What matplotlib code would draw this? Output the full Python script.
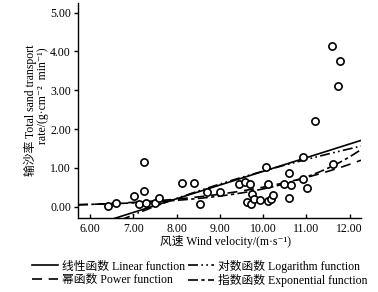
import numpy as np
import matplotlib
matplotlib.use("Agg")
import matplotlib.pyplot as plt

plt.rcParams['font.family'] = ['Liberation Serif', 'Noto Sans CJK SC', 'DejaVu Serif']

# Observed data: wind velocity (m/s) vs total sand transport rate
wind = [6.41, 6.60, 7.01, 7.24, 7.24, 7.13, 7.30, 7.49, 7.59, 8.13,
        8.40, 8.53, 8.70, 9.00, 9.45, 9.57, 9.70, 9.75, 9.62, 9.72,
        9.78, 9.92, 10.07, 10.12, 10.12, 10.17, 10.22, 10.49, 10.60, 10.65,
        10.59, 10.93, 11.02, 10.92, 11.62, 11.20, 11.59, 11.78, 11.72]
rate = [0.02, 0.09, 0.28, 1.16, 0.40, 0.06, 0.09, 0.09, 0.22, 0.61,
        0.61, 0.06, 0.37, 0.38, 0.58, 0.64, 0.58, 0.33, 0.11, 0.06,
        0.19, 0.16, 1.02, 0.59, 0.15, 0.19, 0.29, 0.58, 0.87, 0.56,
        0.21, 0.72, 0.48, 1.28, 1.10, 2.21, 4.15, 3.75, 3.11]

# Fitted function coefficients
linear_coef = (0.353, -2.62)      # y = a*x + b
log_coef = (3.16, -6.36)          # y = a*ln(x) + b
power_coef = (2.76e-5, 4.26)      # y = a*x^b
exp_coef = (0.0026, 0.517)        # y = a*exp(b*x)

xticks = [6, 7, 8, 9, 10, 11, 12]
yticks = [0, 1, 2, 3, 4, 5]

fig = plt.figure(figsize=(3.78, 2.92), dpi=100)
ax = fig.add_axes([78/378, 1-217.5/292, (361-78)/378, (217.5-3)/292])

xlim = (5.72, 12.26)
ylim = (-0.28, 5.25)
xs = np.linspace(xlim[0], xlim[1], 300)

lw = 1.2
ax.plot(xs, linear_coef[0]*xs + linear_coef[1], color='black', lw=lw,
        label='线性函数 Linear function')
ax.plot(xs, power_coef[0]*xs**power_coef[1], color='black', lw=lw,
        dashes=(6, 4), label='幂函数 Power function')
ax.plot(xs, log_coef[0]*np.log(xs) + log_coef[1], color='black', lw=lw,
        dashes=(6, 2, 1, 2, 1, 2), label='对数函数 Logarithm function')
ax.plot(xs, exp_coef[0]*np.exp(exp_coef[1]*xs), color='black', lw=lw,
        dashes=(6, 2, 2, 2), label='指数函数 Exponential function')

ax.plot(wind, rate, linestyle='none', marker='o', markersize=5.2,
        markerfacecolor='white', markeredgecolor='black', markeredgewidth=1.2)

fs = 8.5
ax.set_xlim(*xlim)
ax.set_ylim(*ylim)
ax.set_xticks(xticks)
ax.set_xticklabels([f"{v:.2f}" for v in xticks], fontsize=fs)
ax.set_yticks(yticks)
ax.set_yticklabels([f"{v:.2f}" for v in yticks], fontsize=fs)
ax.spines['top'].set_visible(False)
ax.spines['right'].set_visible(False)
for s in ('left', 'bottom'):
    ax.spines[s].set_linewidth(1.0)
ax.tick_params(axis='x', direction='in', length=3, width=1, pad=4)
ax.tick_params(axis='y', direction='out', length=3, width=1, pad=2)

fig.text(226/378, 1-242/292, '风速 Wind velocity/(m·s⁻¹)', ha='center',
         va='center', fontsize=fs)
fig.text(30/378, 1-110/292, '输沙率 Total sand transport', rotation=90,
         ha='center', va='center', fontsize=fs)
fig.text(43/378, 1-96/292, 'rate/(g·cm⁻²  min⁻¹)', rotation=90,
         ha='center', va='center', fontsize=fs)

handles, labels = ax.get_legend_handles_labels()
fig.legend(handles, labels, ncol=2, loc='center', bbox_to_anchor=(0.528, 1-273.5/292),
           frameon=False, fontsize=fs, handlelength=2.2, handletextpad=0.3,
           columnspacing=0.3, labelspacing=0.15, borderpad=0)

fig.savefig('out.png', dpi=100)
